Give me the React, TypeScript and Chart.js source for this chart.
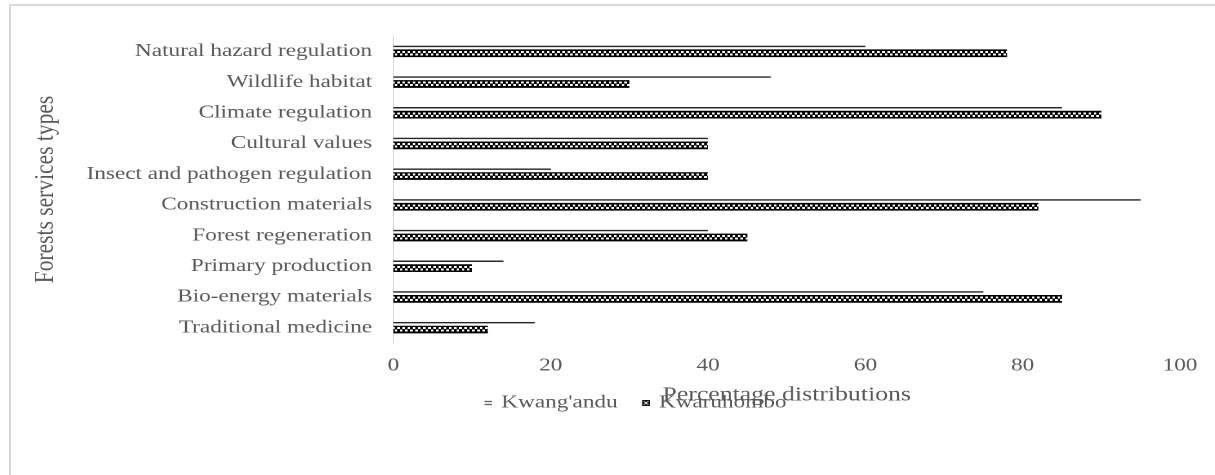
import React, { useEffect, useRef } from 'react';
import { Chart, registerables } from 'chart.js';

Chart.register(...registerables);

// ---------------- data ----------------
const categories = [
  'Natural hazard regulation',
  'Wildlife habitat',
  'Climate regulation',
  'Cultural values',
  'Insect and pathogen regulation',
  'Construction materials',
  'Forest regeneration',
  'Primary production',
  'Bio-energy materials',
  'Traditional medicine',
];
const kwangandu = [60, 48, 85, 40, 20, 95, 40, 14, 75, 18];
const kwaruhombo = [78, 30, 90, 40, 40, 82, 45, 10, 85, 12];
const seriesNames = ["Kwang'andu", 'Kwaruhombo'];
const xTicks = [0, 20, 40, 60, 80, 100];
const xTitle = 'Percentage distributions';
const yTitle = 'Forests services types';

// ---------------- layout / style ----------------
const W = 942;
const H = 475;
const SX = 1215 / W;
const DPR = 2;
const FONT = "'Liberation Serif', 'Times New Roman', serif";
const TEXT = '#595959';
const CAT_PCT = 0.248;
const BAR_PCT = 2.03;
const LEGEND_PAD = 17;
const LEGEND_LEFT = 356.6;

Chart.defaults.font.family = FONT;
Chart.defaults.color = TEXT;

function makeTile(): HTMLCanvasElement {
  const c = document.createElement('canvas');
  c.width = 8;
  c.height = 16;
  const g = c.getContext('2d')!;
  g.fillStyle = '#000';
  g.fillRect(0, 0, 8, 16);
  g.fillStyle = '#fff';
  g.fillRect(0, 3, 4, 4);
  g.fillRect(4, 8, 4, 4);
  return c;
}

function makeLinesIcon(): HTMLCanvasElement {
  const c = document.createElement('canvas');
  c.width = 10;
  c.height = 6;
  const g = c.getContext('2d')!;
  g.fillStyle = '#303030';
  g.fillRect(4, 1, 6, 1);
  g.fillRect(4, 4, 6, 1);
  return c;
}

function makeCheckIcon(): HTMLCanvasElement {
  const c = document.createElement('canvas');
  c.width = 10;
  c.height = 6;
  const g = c.getContext('2d')!;
  g.fillStyle = '#000';
  g.fillRect(4, 0, 6, 6);
  g.fillStyle = '#fff';
  g.fillRect(5, 1, 1, 1);
  g.fillRect(8, 1, 1, 1);
  g.fillRect(5, 4, 1, 1);
  g.fillRect(8, 4, 1, 1);
  g.fillRect(6, 2, 2, 2);
  return c;
}

export default function App() {
  const ref = useRef<HTMLCanvasElement>(null);

  useEffect(() => {
    const canvas = ref.current;
    if (!canvas) return;
    const tile = makeTile();
    const icons = [makeLinesIcon(), makeCheckIcon()];

    const patternFill = (c: any) => {
      const chart = c.chart;
      const ys = chart.scales && chart.scales.y;
      if (!ys || c.type !== 'data' || typeof c.dataIndex !== 'number') return '#000';
      const catW = (ys.bottom - ys.top) / categories.length;
      const chunk = (catW * CAT_PCT) / 2;
      const center = ys.getPixelForValue(c.dataIndex) + chunk / 2;
      const size = chunk * BAR_PCT;
      const top = Math.round((center - size / 2) * DPR) / DPR;
      const pat = chart.ctx.createPattern(tile, 'repeat');
      if (!pat) return '#000';
      pat.setTransform(new DOMMatrix().translate(0, top).scale(1 / DPR));
      return pat;
    };

    const legendShift = {
      id: 'legendShift',
      afterLayout(chart: any) {
        const lg = chart.legend;
        if (!lg) return;
        const w = lg.right - lg.left;
        lg.left = LEGEND_LEFT;
        lg.right = LEGEND_LEFT + w;
      },
    };

    const chart = new Chart(canvas, {
      type: 'bar',
      data: {
        labels: categories,
        datasets: [
          {
            label: seriesNames[0],
            data: kwangandu,
            backgroundColor: 'rgba(0,0,0,0)',
            borderColor: '#262626',
            borderWidth: { top: 1.5, right: 0, bottom: 0, left: 0 },
            borderSkipped: false,
            categoryPercentage: CAT_PCT,
            barPercentage: BAR_PCT,
          },
          {
            label: seriesNames[1],
            data: kwaruhombo,
            backgroundColor: patternFill,
            borderWidth: 0,
            categoryPercentage: CAT_PCT,
            barPercentage: BAR_PCT,
          },
        ],
      },
      options: {
        indexAxis: 'y',
        responsive: false,
        animation: false,
        devicePixelRatio: DPR,
        font: { family: FONT },
        layout: { padding: { top: 36, left: 22.7, right: 27.1, bottom: 53 } },
        scales: {
          x: {
            type: 'linear',
            position: 'bottom',
            min: 0,
            max: 100,
            afterBuildTicks: (s: any) => {
              s.ticks = xTicks.map((v) => ({ value: v }));
            },
            ticks: { font: { family: FONT, size: 18 }, color: TEXT, padding: 12 },
            grid: { display: false, drawTicks: false },
            border: { display: false },
            title: {
              display: true,
              text: xTitle,
              font: { family: FONT, size: 20 },
              color: TEXT,
              padding: { top: 0, bottom: -30 },
            },
            afterFit: (s: any) => {
              s.height = 34;
            },
          },
          y: {
            type: 'category',
            grid: { display: false, drawTicks: false },
            border: { display: true, color: '#d9d9d9', width: 1 },
            ticks: { font: { family: FONT, size: 18 }, color: TEXT, padding: 16.5, autoSkip: false },
            title: {
              display: true,
              text: yTitle,
              font: { family: FONT, size: 21.5 },
              color: TEXT,
              padding: { top: 0, bottom: 0 },
            },
            afterFit: (s: any) => {
              s.width = 282.3;
            },
          },
        },
        plugins: {
          tooltip: { enabled: false },
          legend: {
            display: true,
            position: 'bottom',
            align: 'start',
            labels: {
              font: { family: FONT, size: 18 },
              color: TEXT,
              padding: LEGEND_PAD,
              boxWidth: 6,
              boxHeight: 6,
              usePointStyle: true,
              generateLabels: (ch: any) => {
                const items = (Chart.defaults.plugins.legend.labels as any).generateLabels(ch);
                items.forEach((it: any, i: number) => {
                  it.pointStyle = icons[i];
                  it.fontColor = TEXT;
                });
                return items;
              },
            },
          },
        },
      } as any,
      plugins: [legendShift],
    });

    return () => chart.destroy();
  }, []);

  return (
    <div
      style={{
        position: 'fixed',
        left: 0,
        top: 0,
        width: 1215,
        height: 475,
        overflow: 'hidden',
        background: '#fff',
      }}
    >
      <div
        style={{
          position: 'absolute',
          left: 9,
          top: 4,
          width: 1400,
          height: 600,
          borderTop: '2px solid #d9d9d9',
          borderLeft: '2px solid #d9d9d9',
        }}
      />
      <div
        style={{
          position: 'absolute',
          left: 0,
          top: 0,
          width: W,
          height: H,
          transform: `scaleX(${SX})`,
          transformOrigin: '0 0',
        }}
      >
        <canvas ref={ref} width={W} height={H} style={{ width: W, height: H, display: 'block' }} />
      </div>
    </div>
  );
}
